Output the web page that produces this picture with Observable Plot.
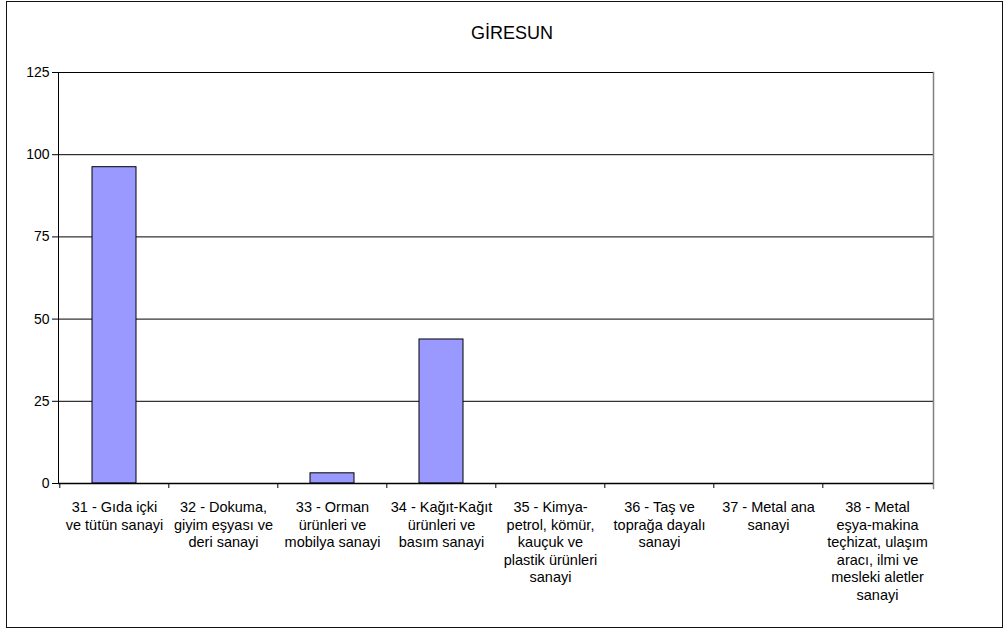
<!DOCTYPE html>
<html>
<head>
<meta charset="utf-8">
<script src="https://cdn.jsdelivr.net/npm/d3@7"></script>
<script src="https://cdn.jsdelivr.net/npm/@observablehq/plot@0.6"></script>
<style>
  html, body { margin: 0; padding: 0; background: #fff; }
  #wrap { position: relative; width: 1004px; height: 629px; overflow: hidden; font-family: "Liberation Sans", Arial, sans-serif; }
  #border { position: absolute; left: 6px; top: 1px; width: 997px; height: 627px; box-sizing: border-box; border: 1.5px solid #111; pointer-events: none; }
  #title { position: absolute; left: 412px; width: 200px; top: 23px; text-align: center; font-size: 18px; line-height: 20px; color: #000; }
  #chart { position: absolute; left: 0; top: 0; }
</style>
</head>
<body>
<div id="wrap">
  <div id="chart"></div>
  <div id="title">GİRESUN</div>
  <div id="border"></div>
</div>
<script>
const categories = [
  "31 - Gıda içki\nve tütün sanayi",
  "32 - Dokuma,\ngiyim eşyası ve\nderi sanayi",
  "33 - Orman\nürünleri ve\nmobilya sanayi",
  "34 - Kağıt-Kağıt\nürünleri ve\nbasım sanayi",
  "35 - Kimya-\npetrol, kömür,\nkauçuk ve\nplastik ürünleri\nsanayi",
  "36 - Taş ve\ntoprağa dayalı\nsanayi",
  "37 - Metal ana\nsanayi",
  "38 - Metal\neşya-makina\nteçhizat, ulaşım\naracı, ilmi ve\nmesleki aletler\nsanayi"
];
const values = [96.2, 0, 3.1, 43.8, 0, 0, 0, 0];
const yTicks = [0, 25, 50, 75, 100, 125];

const data = categories.map((c, i) => ({cat: c, value: values[i]}));

const W = 1004, H = 629, mL = 58, mR = 71, mT = 72, mB = 146;
const step = (W - mL - mR) / categories.length;

const chart = Plot.plot({
  width: W,
  height: H,
  marginLeft: mL,
  marginRight: mR,
  marginTop: mT,
  marginBottom: mB,
  style: {fontFamily: "'Liberation Sans', Arial, sans-serif", fontSize: "14px", background: "transparent", color: "#000"},
  x: {domain: categories, paddingInner: 0.6, paddingOuter: 0.3, axis: null, label: null},
  y: {domain: [0, 125], axis: null, label: null},
  marks: [
    Plot.ruleY(yTicks.slice(1), {stroke: "#000", strokeWidth: 1}),
    Plot.frame({anchor: "right", stroke: "#808080", strokeWidth: 1.5, insetBottom: -5}),
    Plot.barY(data.filter(d => d.value > 0), {x: "cat", y: "value", fill: "#9999FF", stroke: "#000", strokeWidth: 1}),
    Plot.frame({anchor: "left", stroke: "#000", strokeWidth: 1}),
    Plot.ruleY([0], {stroke: "#000", strokeWidth: 1.5}),
    Plot.axisY({ticks: yTicks, tickSize: 6, tickPadding: 3, fontSize: 14, stroke: "#000", label: null}),
    Plot.axisX({ticks: categories, tickFormat: () => "", tickSize: 5, dx: -step / 2, stroke: "#000", label: null}),
    Plot.text(data, {x: "cat", text: "cat", frameAnchor: "bottom", lineAnchor: "top", dy: 16, lineHeight: 1.21, fontSize: 14.5, textAnchor: "middle", fill: "#000"})
  ]
});
document.getElementById("chart").appendChild(chart);
</script>
</body>
</html>
